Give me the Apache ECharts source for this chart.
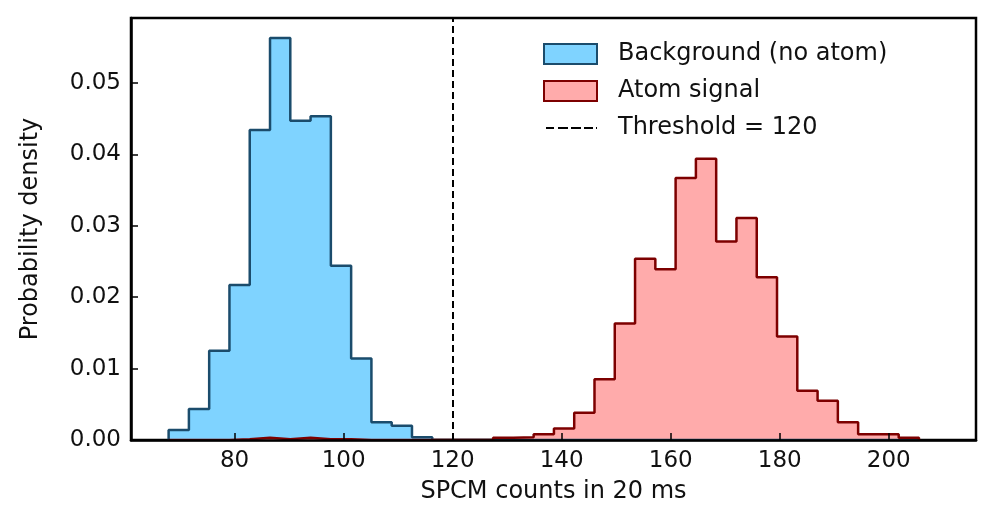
<!DOCTYPE html>
<html>
<head>
<meta charset="utf-8">
<script src="https://cdn.jsdelivr.net/npm/echarts@6/dist/echarts.min.js"></script>
<style>
  html, body { margin: 0; padding: 0; background: #fff; }
  #main-chart { width: 997px; height: 519px; }
</style>
</head>
<body>
<div id="main-chart"></div>
<script>
// shared histogram bin edges (SPCM counts)
const binEdges = [67.9, 71.62, 75.34, 79.06, 82.78, 86.5, 90.22, 93.94, 97.66, 101.38,
  105.1, 108.82, 112.54, 116.26, 119.98, 123.7, 127.42, 131.14, 134.86, 138.58,
  142.3, 146.02, 149.74, 153.46, 157.18, 160.9, 164.62, 168.34, 172.06, 175.78,
  179.5, 183.22, 186.94, 190.66, 194.38, 198.1, 201.82, 205.54]

// probability density per bin
const backgroundDensity = [0.0014, 0.00435, 0.0125, 0.0217, 0.0434, 0.0563, 0.0447, 0.04535,
  0.0244, 0.0114, 0.0025, 0.0020, 0.0004, 0, 0, 0, 0, 0, 0, 0,
  0, 0, 0, 0, 0, 0, 0, 0, 0, 0,
  0, 0, 0, 0, 0, 0, 0]
const atomDensity = [0, 0, 0, 0.0001, 0.0003, 0.0001, 0.0003, 0.0001, 0.0001, 0,
  0, 0, 0, 0, 0, 0, 0.0003, 0.0004, 0.0008, 0.0016,
  0.0038, 0.0085, 0.0163, 0.0254, 0.0239, 0.0367, 0.0394, 0.0278, 0.0311, 0.0228,
  0.0145, 0.0069, 0.0055, 0.0025, 0.0008, 0.0008, 0.0003]

const xTicks = [80, 100, 120, 140, 160, 180, 200]
const yTicks = [0, 0.01, 0.02, 0.03, 0.04, 0.05]
const threshold = 120

const FONT = 'DejaVu Sans'
const FONT_WEIGHT = 'normal'
const TEXT = '#111'
const BLUE_FILL = '#7fd3ff'
const BLUE_EDGE = '#1b4c6c'
const RED_FILL = '#ffabab'
const RED_EDGE = '#7d0000'

// dashed legend key, 53x20 box (corner points fix the bounds)
const DASH_ICON = 'path://M0,0L0.01,0M0,20L0.01,20M53,0L53,0.01' +
  'M2,9h8v2h-8zM14,9h10v2h-10zM27,9h10v2h-10zM40,9h9v2h-9zM52,9h1v2h-1z'

// step outline: start at 0, one point per bin left edge, close at last edge
const stepData = heights => {
  const pts = [[binEdges[0], 0]]
  heights.forEach((h, i) => pts.push([binEdges[i], h]))
  pts.push([binEdges[heights.length], heights[heights.length - 1]])
  pts.push([binEdges[heights.length], 0])
  return pts
}

const chart = echarts.init(document.querySelector('#main-chart'), null, { renderer: 'canvas' })

const histSeries = (name, heights, fill, edge) => ({
  name: name,
  type: 'line',
  step: 'end',
  data: stepData(heights),
  showSymbol: false,
  symbol: 'none',
  silent: true,
  z: 2,
  lineStyle: { color: edge, width: 2.5 },
  itemStyle: { color: fill, borderColor: edge, borderWidth: 2 },
  areaStyle: { color: fill, opacity: 1 }
})

const textStyle = size => ({ fontFamily: FONT, fontWeight: FONT_WEIGHT, fontSize: size, color: TEXT })

const option = {
  animation: false,
  textStyle: { fontFamily: FONT },
  grid: {
    left: 131, right: 21, top: 18, bottom: 79,
    show: true, borderColor: '#000', borderWidth: 2.5
  },
  legend: {
    left: 538, top: 37,
    orient: 'vertical',
    itemWidth: 53, itemHeight: 20,
    itemGap: 13,
    symbolKeepAspect: false,
    textStyle: Object.assign(textStyle(24), { lineHeight: 24, padding: [0, 0, 0, 16] }),
    data: [
      { name: 'Background (no atom)', icon: 'rect',
        itemStyle: { color: BLUE_FILL, borderColor: BLUE_EDGE, borderWidth: 2 } },
      { name: 'Atom signal', icon: 'rect',
        itemStyle: { color: RED_FILL, borderColor: RED_EDGE, borderWidth: 2 } },
      { name: 'Threshold = ' + threshold, icon: DASH_ICON,
        itemStyle: { color: '#000', borderWidth: 0 } }
    ]
  },
  xAxis: {
    type: 'value',
    min: 61, max: 216,
    z: 10,
    name: 'SPCM counts in 20 ms',
    nameLocation: 'middle',
    nameGap: 40,
    nameTextStyle: textStyle(24),
    axisLine: { show: true, lineStyle: { color: '#000', width: 2.5 } },
    axisTick: { show: true, inside: true, length: 7, customValues: xTicks, lineStyle: { color: '#000', width: 1.5 } },
    axisLabel: Object.assign(textStyle(23), { customValues: xTicks, margin: 10 }),
    splitLine: { show: false }
  },
  yAxis: {
    type: 'value',
    min: 0, max: 0.0591,
    z: 10,
    name: 'Probability density',
    nameLocation: 'middle',
    nameGap: 88,
    nameTextStyle: textStyle(24),
    axisLine: { show: true, lineStyle: { color: '#000', width: 2.5 } },
    axisTick: { show: true, inside: true, length: 7, customValues: yTicks, lineStyle: { color: '#000', width: 1.5 } },
    axisLabel: Object.assign(textStyle(23), { customValues: yTicks, margin: 10,
      formatter: v => v.toFixed(2) }),
    splitLine: { show: false }
  },
  series: [
    histSeries('Background (no atom)', backgroundDensity, BLUE_FILL, BLUE_EDGE),
    histSeries('Atom signal', atomDensity, RED_FILL, RED_EDGE),
    {
      name: 'Threshold = ' + threshold,
      type: 'line',
      data: [],
      symbol: 'none',
      showSymbol: false,
      z: 3,
      itemStyle: { color: '#000' },
      lineStyle: { color: '#000', width: 2, type: [7, 4] },
      markLine: {
        silent: true,
        symbol: 'none',
        label: { show: false },
        lineStyle: { color: '#000', width: 2, type: [7, 4] },
        data: [{ xAxis: threshold }]
      }
    }
  ]
}
chart.setOption(option)
</script>
</body>
</html>
